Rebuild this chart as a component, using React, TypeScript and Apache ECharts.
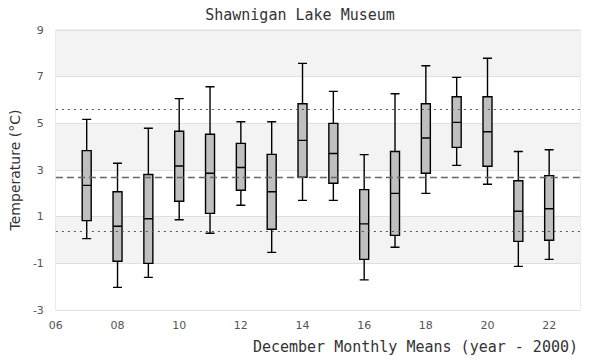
import React, { useEffect, useRef } from "react";
import * as echarts from "echarts";

const years = [7, 8, 9, 10, 11, 12, 13, 14, 15, 16, 17, 18, 19, 20, 21, 22];
const lows = [0.06, -2.03, -1.6, 0.87, 0.29, 1.49, -0.53, 1.7, 1.7, -1.71, -0.31, 2.0, 3.2, 2.39, -1.13, -0.83];
const q1s = [0.83, -0.91, -1.0, 1.66, 1.14, 2.13, 0.46, 2.69, 2.43, -0.83, 0.2, 2.86, 3.97, 3.16, -0.06, -0.01];
const medians = [2.34, 0.59, 0.91, 3.17, 2.86, 3.11, 2.07, 4.27, 3.71, 0.69, 2.0, 4.37, 5.04, 4.64, 1.23, 1.34];
const q3s = [3.83, 2.07, 2.81, 4.66, 4.53, 4.14, 3.67, 5.84, 5.0, 2.16, 3.79, 5.84, 6.14, 6.14, 2.54, 2.76];
const highs = [5.17, 3.29, 4.79, 6.06, 6.57, 5.07, 5.07, 7.57, 6.37, 3.66, 6.27, 7.47, 6.97, 7.79, 3.79, 3.87];

const meanLine = 2.69;
const upperLine = 5.61;
const lowerLine = 0.36;

const titleText = "Shawnigan Lake Museum";
const xName = "December Monthly Means (year - 2000)";
const yName = "Temperature (°C)";

const MONO = "'DejaVu Sans Mono', monospace";
const SANS = "'DejaVu Sans', sans-serif";

export default function App() {
  const ref = useRef<HTMLDivElement>(null);
  useEffect(() => {
    if (!ref.current) return;
    const chart = echarts.init(ref.current, null, { renderer: "svg" });
    const data = years.map((y, i) => [y, lows[i], q1s[i], medians[i], q3s[i], highs[i]]);
    chart.setOption({
      animation: false,
      backgroundColor: "#fff",
      title: [
        {
          text: titleText,
          left: "center",
          top: 2,
          textStyle: { fontFamily: MONO, fontSize: 15, fontWeight: "normal", color: "#333" },
        },
        {
          text: xName,
          right: 22,
          top: 339,
          padding: 0,
          textStyle: { fontFamily: MONO, fontSize: 15, fontWeight: "normal", color: "#333" },
        },
      ],
      grid: { left: 50, right: 20, top: 30, bottom: 50, show: true, borderColor: "#d9d9d9", borderWidth: 1 },
      xAxis: {
        type: "value",
        min: 6,
        max: 23,
        interval: 2,
        axisLine: { show: false },
        axisTick: { show: false },
        splitLine: { show: false },
        axisLabel: {
          color: "#555",
          fontFamily: SANS,
          fontSize: 11,
          margin: 10,
          showMaxLabel: false,
          formatter: (v: number) => (v < 10 ? "0" + v : String(v)),
        },
      },
      yAxis: {
        type: "value",
        min: -3,
        max: 9,
        interval: 2,
        name: yName,
        nameLocation: "middle",
        nameGap: 26,
        nameTextStyle: { fontFamily: SANS, fontSize: 14, color: "#333" },
        axisLine: { show: false },
        axisTick: { show: false },
        axisLabel: { color: "#555", fontFamily: SANS, fontSize: 11, margin: 12 },
        splitLine: { show: true, lineStyle: { color: "#e0e0e0", width: 1 } },
        splitArea: { show: true, areaStyle: { color: ["#ffffff", "#f3f3f3"] } },
      },
      series: [
        {
          type: "boxplot",
          data,
          boxWidth: [9, 9],
          itemStyle: { color: "#bfbfbf", borderColor: "#000", borderWidth: 1.4 },
          markLine: {
            silent: true,
            symbol: "none",
            label: { show: false },
            data: [
              { yAxis: upperLine, lineStyle: { color: "#555", type: [2, 4], width: 1.2 } },
              { yAxis: meanLine, lineStyle: { color: "#666", type: [7, 4], width: 1.4 } },
              { yAxis: lowerLine, lineStyle: { color: "#555", type: [2, 4], width: 1.2 } },
            ],
          },
          z: 3,
        },
      ],
    });
    return () => chart.dispose();
  }, []);
  return <div ref={ref} style={{ width: 600, height: 360, position: "absolute", left: 0, top: 0 }} />;
}
